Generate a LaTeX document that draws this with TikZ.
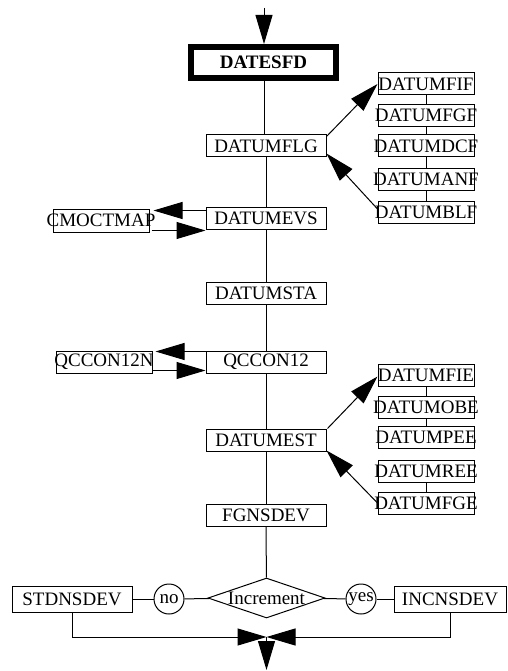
\documentclass[tikz,border=0pt]{standalone}
\usepackage{fontspec}
\setmainfont{Liberation Serif}
\usetikzlibrary{arrows.meta,shapes.geometric,calc}
\newcommand{\ovr}[1]{\makebox[0pt]{#1}}
\begin{document}
\begin{tikzpicture}[x=1pt,y=-1pt,
  every node/.style={font=\fontsize{19}{21}\selectfont},
  box/.style={draw,line width=1pt,inner sep=0pt,minimum width=120pt,minimum height=22pt},
  sbox/.style={draw,line width=1pt,inner sep=0pt,minimum width=96pt,minimum height=22pt},
  ln/.style={line width=1pt},
  arr/.style={line width=1pt,-{Triangle[length=29pt,width=17pt]}},
  bubble/.style={draw,line width=1pt,circle,minimum size=30pt,inner sep=0pt}]
\useasboundingbox (0,0) rectangle (507,671);
% main column
\node[draw,line width=6pt,inner sep=0pt,minimum width=145pt,minimum height=31pt,font=\fontsize{19}{21}\selectfont\bfseries] (dfd) at (263.5,62.5) {\ovr{DATESFD}};
\node[box] (flg) at (266,146) {\ovr{DATUMFLG}};
\node[box] (evs) at (266,218) {\ovr{DATUMEVS}};
\node[box] (sta) at (266,293) {\ovr{DATUMSTA}};
\node[box] (qc) at (266,362) {\ovr{QCCON12}};
\node[box] (est) at (266,440) {\ovr{DATUMEST}};
\node[box] (fgn) at (266,515) {\ovr{FGNSDEV}};
% right upper column
\node[sbox] (fif) at (426,84) {\ovr{DATUMFIF}};
\node[sbox] (fgf) at (426,115.5) {\ovr{DATUMFGF}};
\node[sbox] (dcf) at (426,146) {\ovr{DATUMDCF}};
\node[sbox] (anf) at (426,179.5) {\ovr{DATUMANF}};
\node[sbox] (blf) at (426,212) {\ovr{DATUMBLF}};
% right lower column
\node[sbox] (fie) at (426,375.5) {\ovr{DATUMFIE}};
\node[sbox] (obe) at (426,407) {\ovr{DATUMOBE}};
\node[sbox] (pee) at (426,437.5) {\ovr{DATUMPEE}};
\node[sbox] (ree) at (426,471.5) {\ovr{DATUMREE}};
\node[sbox] (fge) at (426,503) {\ovr{DATUMFGE}};
% left boxes
\node[sbox,minimum height=23pt] (cmoc) at (101,220.5) {\ovr{CMOCTMAP}};
\node[sbox] (qcn) at (104,362) {\ovr{QCCON12N}};
% decision
\node[draw,line width=1pt,diamond,inner sep=0pt,minimum width=117pt,minimum height=40pt] (inc) at (266.5,598) {\ovr{Increment}};
\node[bubble] (no) at (169,599) {\ovr{no}};
\node[bubble] (yes) at (361,599) {\ovr{yes}};
\node[box,minimum height=26pt] (std) at (72,599) {\ovr{STDNSDEV}};
\node[box,minimum width=112pt,minimum height=26pt] (ins) at (450,599) {\ovr{INCNSDEV}};
\coordinate (in) at (264,8);
\coordinate (j) at (266.5,637);
\coordinate (out) at (266.5,670);
% connectors
\draw[arr] (in) -- (dfd.north -| in);
\draw[ln] (dfd.south -| in) -- (flg.north -| in);
\draw[ln] (flg) -- (evs);
\draw[ln] (evs) -- (sta);
\draw[ln] (sta) -- (qc);
\draw[ln] (qc) -- (est);
\draw[ln] (est) -- (fgn);
\draw[ln] (fgn) -- (inc);
\draw[ln] (fif) -- (fgf);
\draw[ln] (fgf) -- (dcf);
\draw[ln] (dcf) -- (anf);
\draw[ln] (anf) -- (blf);
\draw[ln] (fie) -- (obe);
\draw[ln] (obe) -- (pee);
\draw[ln] (ree) -- (fge);
\draw[arr] ($(flg.north east)+(0,2)$) -- (fif.west);
\draw[arr] ($(blf.west)+(0,-3)$) -- ($(flg.south east)+(0,-4)$);
\draw[arr] ($(est.north east)+(1,0)$) -- ($(fie.west)+(0,1)$);
\draw[arr] (fge.west) -- ($(est.south east)+(0,-1)$);
\draw[arr] ($(evs.north west)+(0,4)$) -- ($(cmoc.north east)+(4,2)$);
\draw[arr] ($(cmoc.south east)+(2,-2)$) -- ($(evs.south west)+(0,1)$);
\draw[arr] ($(qc.north west)+(0,1)$) -- ($(qcn.north east)+(3,1)$);
\draw[arr] ($(qcn.south east)+(0,-3)$) -- ($(qc.south west)+(0,-3)$);
\draw[ln] (std) -- (no);
\draw[ln] (no) -- (inc);
\draw[ln] (inc) -- (yes);
\draw[ln] (yes) -- (ins);
\draw[arr] (std.south) |- (j);
\draw[arr] (ins.south) |- (j);
\draw[arr] (j) -- (out);
\end{tikzpicture}
\end{document}
